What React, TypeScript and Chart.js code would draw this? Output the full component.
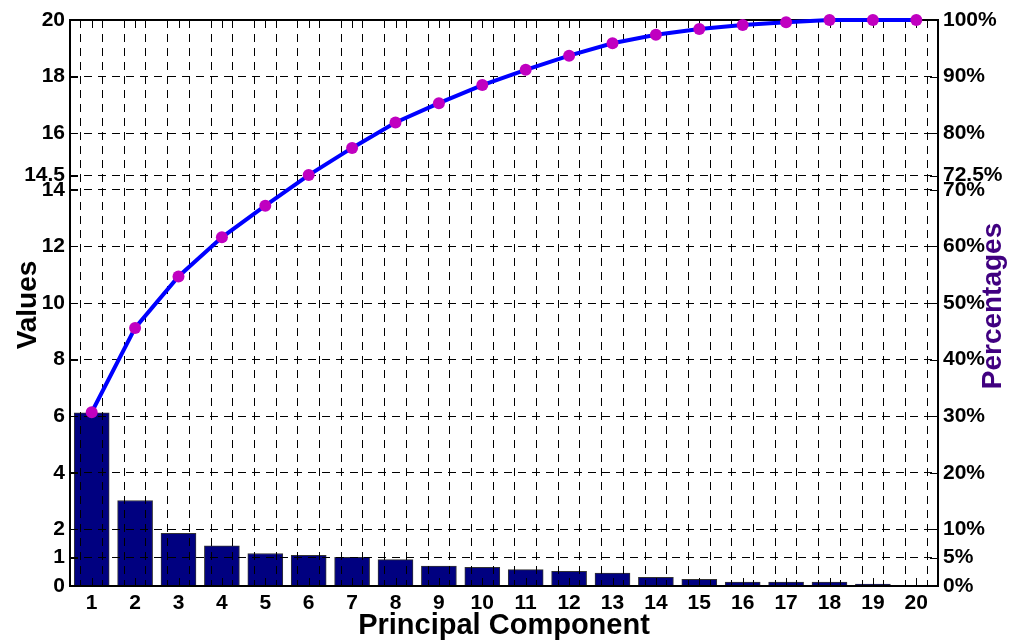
import React, { useEffect, useRef } from 'react';
import { Chart, registerables } from 'chart.js';

Chart.register(...registerables);

// Principal components and their eigenvalues
const components = [1, 2, 3, 4, 5, 6, 7, 8, 9, 10, 11, 12, 13, 14, 15, 16, 17, 18, 19, 20];
const eigenvalues = [6.12, 3.02, 1.86, 1.42, 1.15, 1.08, 1.01, 0.93, 0.7, 0.66, 0.58, 0.52, 0.46, 0.31, 0.24, 0.14, 0.14, 0.14, 0.07, 0.01];
// Cumulative explained variance (%)
const cumulativePct = [30.7, 45.6, 54.7, 61.6, 67.2, 72.6, 77.4, 81.9, 85.3, 88.5, 91.2, 93.7, 95.9, 97.4, 98.4, 99.1, 99.6, 100, 100, 100];

const valueTicks = [0, 1, 2, 4, 6, 8, 10, 12, 14, 14.5, 16, 18, 20];
const percentTicks = [0, 5, 10, 20, 30, 40, 50, 60, 70, 72.5, 80, 90, 100];

const FONT = '"Liberation Sans", Arial, Helvetica, sans-serif';
const TICK_FONT = { family: FONT, size: 21, weight: 'bold' as const };
const DASH = [8, 6];

// vertical grid every half component
const xGrid = components.flatMap((c, i) => (i < components.length - 1 ? [c, c + 0.5] : [c]));

const overlayPlugin = {
  id: 'paretoOverlay',
  beforeDatasetDraw(_chart: any, args: any) {
    // the cumulative line is drawn last, above the grid
    if (args.index === 1) return false;
    return true;
  },
  afterDraw(chart: any) {
    const { ctx, chartArea: a, scales } = chart;
    ctx.save();
    ctx.setLineDash([]);
    ctx.strokeStyle = '#000';
    ctx.lineWidth = 1;
    ctx.beginPath();
    valueTicks.forEach((v) => {
      const y = Math.round(scales.y.getPixelForValue(v)) + 0.5;
      ctx.moveTo(a.left, y);
      ctx.lineTo(a.left + 8, y);
    });
    percentTicks.forEach((v) => {
      const y = Math.round(scales.y1.getPixelForValue(v)) + 0.5;
      ctx.moveTo(a.right, y);
      ctx.lineTo(a.right - 8, y);
    });
    components.forEach((c) => {
      const x = Math.round(scales.x.getPixelForValue(c)) + 0.5;
      ctx.moveTo(x, a.bottom);
      ctx.lineTo(x, a.bottom - 8);
      ctx.moveTo(x, a.top);
      ctx.lineTo(x, a.top + 8);
    });
    ctx.stroke();

    // axes box
    ctx.lineWidth = 2;
    ctx.strokeRect(a.left, a.top, a.right - a.left, a.bottom - a.top);

    // axis titles
    ctx.font = `bold 29px ${FONT}`;
    ctx.textAlign = 'center';
    ctx.textBaseline = 'middle';
    ctx.fillStyle = '#000';
    ctx.fillText('Principal Component', (a.left + a.right) / 2, 626);

    const midY = (a.top + a.bottom) / 2;
    ctx.font = `bold 28px ${FONT}`;
    ctx.save();
    ctx.translate(28, midY + 2);
    ctx.rotate(-Math.PI / 2);
    ctx.fillText('Values', 0, 0);
    ctx.restore();

    ctx.save();
    ctx.translate(993, midY + 3);
    ctx.rotate(-Math.PI / 2);
    ctx.fillStyle = '#400080';
    ctx.fillText('Percentages', 0, 0);
    ctx.restore();
    ctx.restore();

    chart.getDatasetMeta(1).controller.draw();
  },
};

export default function App() {
  const canvasRef = useRef<HTMLCanvasElement | null>(null);

  useEffect(() => {
    const canvas = canvasRef.current;
    if (!canvas) return;
    const chart = new Chart(canvas, {
      type: 'bar',
      data: {
        datasets: [
          {
            type: 'bar',
            label: 'Eigenvalue',
            data: components.map((c, i) => ({ x: c, y: eigenvalues[i] })),
            backgroundColor: '#000080',
            borderColor: '#333333',
            borderWidth: 1,
            barThickness: 35,
            xAxisID: 'x',
            yAxisID: 'y',
          },
          {
            type: 'line',
            label: 'Cumulative',
            data: components.map((c, i) => ({ x: c, y: cumulativePct[i] })),
            borderColor: '#0000ff',
            borderWidth: 4,
            pointBackgroundColor: '#c000c0',
            pointBorderWidth: 0,
            pointRadius: 6,
            tension: 0,
            clip: false as any,
            xAxisID: 'x',
            yAxisID: 'y1',
          },
        ] as any,
      },
      options: {
        animation: false,
        responsive: false,
        devicePixelRatio: 1,
        events: [],
        layout: { padding: { top: 20, left: 0, right: 0, bottom: 0 } },
        plugins: { legend: { display: false }, tooltip: { enabled: false } },
        scales: {
          x: {
            type: 'linear',
            min: 0.5,
            max: 20.5,
            offset: false,
            afterBuildTicks: (s: any) => {
              s.ticks = xGrid.map((v) => ({ value: v }));
            },
            afterFit: (s: any) => {
              s.height = 55;
            },
            ticks: {
              autoSkip: false,
              maxRotation: 0,
              padding: 5,
              color: '#000',
              font: TICK_FONT,
              callback: (v: any) => (Number.isInteger(v) ? String(v) : ''),
            },
            grid: { color: '#000', lineWidth: 1, drawTicks: false, z: 1 },
            border: { display: false, dash: DASH },
          },
          y: {
            type: 'linear',
            position: 'left',
            min: 0,
            max: 20,
            afterBuildTicks: (s: any) => {
              s.ticks = valueTicks.map((v) => ({ value: v }));
            },
            afterFit: (s: any) => {
              s.width = 70;
            },
            ticks: {
              autoSkip: false,
              padding: 5,
              color: '#000',
              font: TICK_FONT,
              callback: (v: any) => String(v),
            },
            grid: { color: '#000', lineWidth: 1, drawTicks: false, z: 1 },
            border: { display: false, dash: DASH },
          },
          y1: {
            type: 'linear',
            position: 'right',
            min: 0,
            max: 100,
            afterBuildTicks: (s: any) => {
              s.ticks = percentTicks.map((v) => ({ value: v }));
            },
            afterFit: (s: any) => {
              s.width = 74;
            },
            ticks: {
              autoSkip: false,
              padding: 5,
              color: '#000',
              font: TICK_FONT,
              callback: (v: any) => `${v}%`,
            },
            grid: { display: false, drawOnChartArea: false, drawTicks: false },
            border: { display: false },
          },
        },
      } as any,
      plugins: [overlayPlugin as any],
    });
    return () => chart.destroy();
  }, []);

  return (
    <div style={{ position: 'absolute', left: 0, top: 0, width: 1012, height: 641, background: '#fff' }}>
      <canvas ref={canvasRef} width={1012} height={641} style={{ display: 'block' }} />
    </div>
  );
}
